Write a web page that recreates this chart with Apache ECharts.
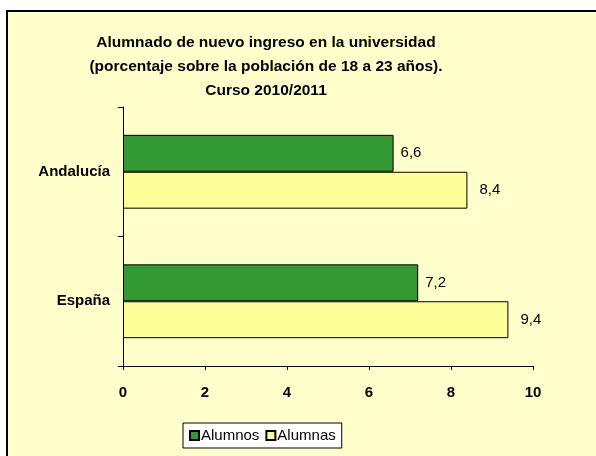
<!DOCTYPE html>
<html>
<head>
<meta charset="utf-8">
<script src="https://cdn.jsdelivr.net/npm/echarts@6/dist/echarts.min.js"></script>
<style>
  html, body { margin: 0; padding: 0; background: #ffffff; }
  #chart { width: 596px; height: 456px; }
</style>
</head>
<body>
<div id="chart"></div>
<script>
// datos del gráfico
const regiones = ['Andalucía', 'España'];
const alumnos = [6.6, 7.2];
const alumnas = [8.4, 9.4];
const ticksX = [0, 2, 4, 6, 8, 10];

const fuente = 'Arial, "Liberation Sans", sans-serif';
const chart = echarts.init(document.getElementById('chart'));

// etiqueta con coma decimal
const conComa = p => String(p.value.toFixed(1)).replace('.', ',');

const option = {
    animation: false,
    textStyle: { fontFamily: fuente },
    // fondo del área del gráfico con borde
    graphic: [{
        type: 'rect',
        shape: { x: 7, y: 11, width: 600, height: 460 },
        style: { fill: '#FFFFCC', stroke: '#000', lineWidth: 2 },
        z: -10
    }],
    title: {
        text: 'Alumnado de nuevo ingreso en la universidad\n(porcentaje sobre la población de 18 a 23 años).\nCurso 2010/2011',
        left: 261,
        top: 26,
        textAlign: 'center',
        textStyle: {
            fontFamily: fuente,
            fontSize: 15.5,
            fontWeight: 'bold',
            color: '#000',
            lineHeight: 24
        }
    },
    legend: {
        data: ['Alumnos', 'Alumnas'],
        left: 183,
        top: 423,
        backgroundColor: '#fff',
        borderColor: '#000',
        borderWidth: 1,
        borderRadius: 0,
        padding: [5, 6],
        itemWidth: 9,
        itemHeight: 9,
        itemGap: 6,
        icon: 'rect',
        textStyle: { fontFamily: fuente, fontSize: 15, color: '#000', padding: [0, 0, 0, -3] }
    },
    grid: { left: 123, top: 107, right: 63, bottom: 90 },
    xAxis: {
        type: 'value',
        min: ticksX[0],
        max: ticksX[ticksX.length - 1],
        interval: 2,
        splitLine: { show: false },
        axisLine: { show: true, lineStyle: { color: '#000', width: 1 } },
        axisTick: { show: true, length: 4, lineStyle: { color: '#000' } },
        axisLabel: { margin: 19, fontFamily: fuente, fontSize: 15, fontWeight: 'bold', color: '#000' }
    },
    yAxis: {
        type: 'category',
        data: regiones,
        inverse: true,
        axisLine: { show: true, lineStyle: { color: '#000', width: 1 } },
        axisTick: { show: true, length: 5, lineStyle: { color: '#000' } },
        axisLabel: { margin: 13, fontFamily: fuente, fontSize: 15, fontWeight: 'bold', color: '#000' }
    },
    series: [
        {
            name: 'Alumnos',
            type: 'bar',
            data: alumnos,
            barGap: '0%',
            barCategoryGap: '43%',
            itemStyle: { color: '#339933', borderColor: '#000', borderWidth: 1 },
            label: { show: true, position: 'right', distance: 7, formatter: conComa,
                     fontFamily: fuente, fontSize: 15, color: '#000' }
        },
        {
            name: 'Alumnas',
            type: 'bar',
            data: alumnas,
            barGap: '0%',
            barCategoryGap: '43%',
            itemStyle: { color: '#FFFF99', borderColor: '#000', borderWidth: 1 },
            label: { show: true, position: 'right', distance: 12, formatter: conComa,
                     fontFamily: fuente, fontSize: 15, color: '#000' }
        }
    ]
};

chart.setOption(option);
</script>
</body>
</html>
